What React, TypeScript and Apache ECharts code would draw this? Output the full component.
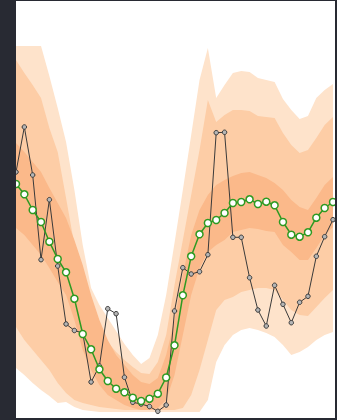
import React, { useEffect, useRef } from "react";
import * as echarts from "echarts";

// 39 time steps
const steps: string[] = Array.from({ length: 39 }, (_, i) => `t${i + 1}`);

// forecast mean
const meanValues = [23.6, 22.57, 21.0, 19.8, 17.83, 16.1, 14.77, 12.13, 8.6, 7.07, 5.07, 3.9, 3.13, 2.77, 2.23, 1.9, 2.13, 2.63, 4.25, 7.47, 12.47, 16.37, 18.57, 19.7, 20.0, 20.7, 21.7, 21.8, 22.07, 21.6, 21.83, 21.47, 19.8, 18.53, 18.33, 18.77, 20.23, 21.2, 21.8];

// observed values
const observedValues = [24.8, 29.3, 24.5, 16.03, 22.03, 15.4, 9.6, 8.95, 8.7, 3.8, 5.4, 11.13, 10.63, 4.27, 1.77, 1.6, 1.35, 0.87, 1.5, 10.9, 15.23, 14.6, 14.83, 16.53, 28.73, 28.77, 18.27, 18.27, 14.23, 11.0, 9.4, 13.47, 11.57, 9.73, 11.77, 12.37, 16.37, 18.33, 20.03];

// outer band
const outerUpper = [37.4, 37.4, 37.4, 37.4, 34.4, 31.2, 27.8, 23.0, 17.5, 13.2, 11.5, 10.2, 8.9, 7.6, 6.5, 5.6, 6.2, 8.5, 12.5, 17.7, 23.0, 28.5, 34.0, 37.2, 32.2, 33.5, 34.7, 34.9, 34.8, 34.2, 34.0, 33.8, 32.1, 31.0, 30.1, 30.4, 32.2, 33.0, 33.6];
const outerLower = [5.2, 4.5, 3.7, 3.0, 2.4, 1.7, 1.8, 1.3, 1.0, 0.9, 0.8, 0.8, 0.8, 0.8, 0.8, 0.8, 0.8, 0.8, 0.8, 0.8, 0.8, 0.8, 0.8, 2.0, 5.8, 7.5, 8.5, 9.0, 9.2, 9.0, 8.7, 8.3, 7.5, 6.5, 6.8, 7.3, 8.0, 8.5, 8.8];

// middle band
const middleUpper = [36.0, 34.7, 33.5, 32.2, 29.2, 26.8, 22.2, 17.5, 13.5, 10.2, 8.7, 7.8, 6.8, 6.0, 5.3, 4.7, 4.6, 5.8, 8.5, 13.5, 18.0, 22.5, 27.0, 32.0, 29.8, 30.5, 31.0, 31.0, 30.9, 30.4, 30.3, 30.2, 28.7, 27.5, 26.7, 27.0, 28.2, 29.5, 30.3];
const middleLower = [9.3, 8.0, 7.0, 6.0, 5.0, 3.7, 2.7, 2.0, 1.7, 1.5, 1.3, 1.2, 1.1, 1.0, 1.0, 1.0, 1.0, 1.0, 1.0, 1.0, 1.2, 2.5, 5.0, 8.0, 11.0, 12.0, 12.3, 12.8, 13.0, 13.2, 13.2, 13.0, 12.0, 11.0, 10.5, 10.4, 11.3, 12.2, 13.0];

// inner band
const innerUpper = [27.7, 26.8, 25.8, 24.8, 23.2, 21.7, 20.2, 18.0, 15.5, 12.5, 10.0, 8.0, 6.5, 5.5, 4.5, 3.8, 3.6, 4.2, 6.5, 10.0, 14.5, 18.5, 21.0, 22.5, 23.5, 24.0, 24.4, 24.7, 24.8, 24.5, 24.2, 23.7, 23.0, 22.0, 21.3, 21.0, 22.2, 23.5, 24.3];
const innerLower = [19.2, 18.5, 17.5, 16.5, 15.2, 13.8, 12.5, 10.0, 7.0, 5.0, 3.5, 2.5, 2.0, 1.5, 1.2, 1.0, 1.0, 1.2, 2.0, 4.5, 8.5, 12.5, 15.2, 16.8, 17.5, 18.0, 18.8, 19.0, 19.2, 19.1, 18.9, 18.8, 17.5, 16.8, 16.0, 16.0, 17.2, 18.5, 19.3];

const OUTER_COLOR = "#fee3cb";
const MIDDLE_COLOR = "#fdcda6";
const INNER_COLOR = "#fbb98a";
const MEAN_COLOR = "#2e9a22";
const OBS_COLOR = "#3a3a3a";
const FRAME = "#282a33";

function band(name: string, lower: number[], upper: number[], color: string) {
  return [
    {
      name: name + "-base",
      type: "line",
      stack: name,
      data: lower,
      symbol: "none",
      lineStyle: { opacity: 0 },
      silent: true,
    },
    {
      name: name,
      type: "line",
      stack: name,
      data: upper.map((u, i) => +(u - lower[i]).toFixed(3)),
      symbol: "none",
      lineStyle: { opacity: 0 },
      areaStyle: { color, opacity: 1 },
      silent: true,
    },
  ];
}

export default function App() {
  const ref = useRef<HTMLDivElement>(null);
  useEffect(() => {
    if (!ref.current) return;
    const chart = echarts.init(ref.current, undefined, { renderer: "svg" });
    chart.setOption({
      animation: false,
      grid: { left: 16, right: 4, top: 0, bottom: 0 },
      xAxis: { type: "category", data: steps, boundaryGap: false, show: false },
      yAxis: { type: "value", min: 0, max: 42, show: false },
      series: [
        ...band("outer", outerLower, outerUpper, OUTER_COLOR),
        ...band("middle", middleLower, middleUpper, MIDDLE_COLOR),
        ...band("inner", innerLower, innerUpper, INNER_COLOR),
        {
          name: "observed",
          type: "line",
          data: observedValues,
          symbol: "circle",
          symbolSize: 4.5,
          lineStyle: { color: OBS_COLOR, width: 1 },
          itemStyle: { color: "#b5b5b5", borderColor: OBS_COLOR, borderWidth: 1 },
          z: 3,
        },
        {
          name: "mean",
          type: "line",
          data: meanValues,
          symbol: "circle",
          symbolSize: 7,
          showAllSymbol: true,
          lineStyle: { color: MEAN_COLOR, width: 1.5 },
          itemStyle: { color: "#ffffff", borderColor: MEAN_COLOR, borderWidth: 1.5 },
          z: 4,
        },
      ],
    });
    return () => chart.dispose();
  }, []);

  return (
    <div style={{ position: "fixed", left: 0, top: 0, width: 337, height: 420, background: "#fff" }}>
      <div ref={ref} style={{ position: "absolute", left: 0, top: 0, width: 337, height: 420 }} />
      <div style={{ position: "absolute", left: 0, top: 0, width: 16, height: 420, background: FRAME }} />
      <div style={{ position: "absolute", left: 0, top: 0, width: 337, height: 1, background: FRAME }} />
      <div style={{ position: "absolute", left: 335, top: 0, width: 2, height: 420, background: FRAME }} />
      <div style={{ position: "absolute", left: 0, top: 418, width: 337, height: 2, background: FRAME }} />
    </div>
  );
}
